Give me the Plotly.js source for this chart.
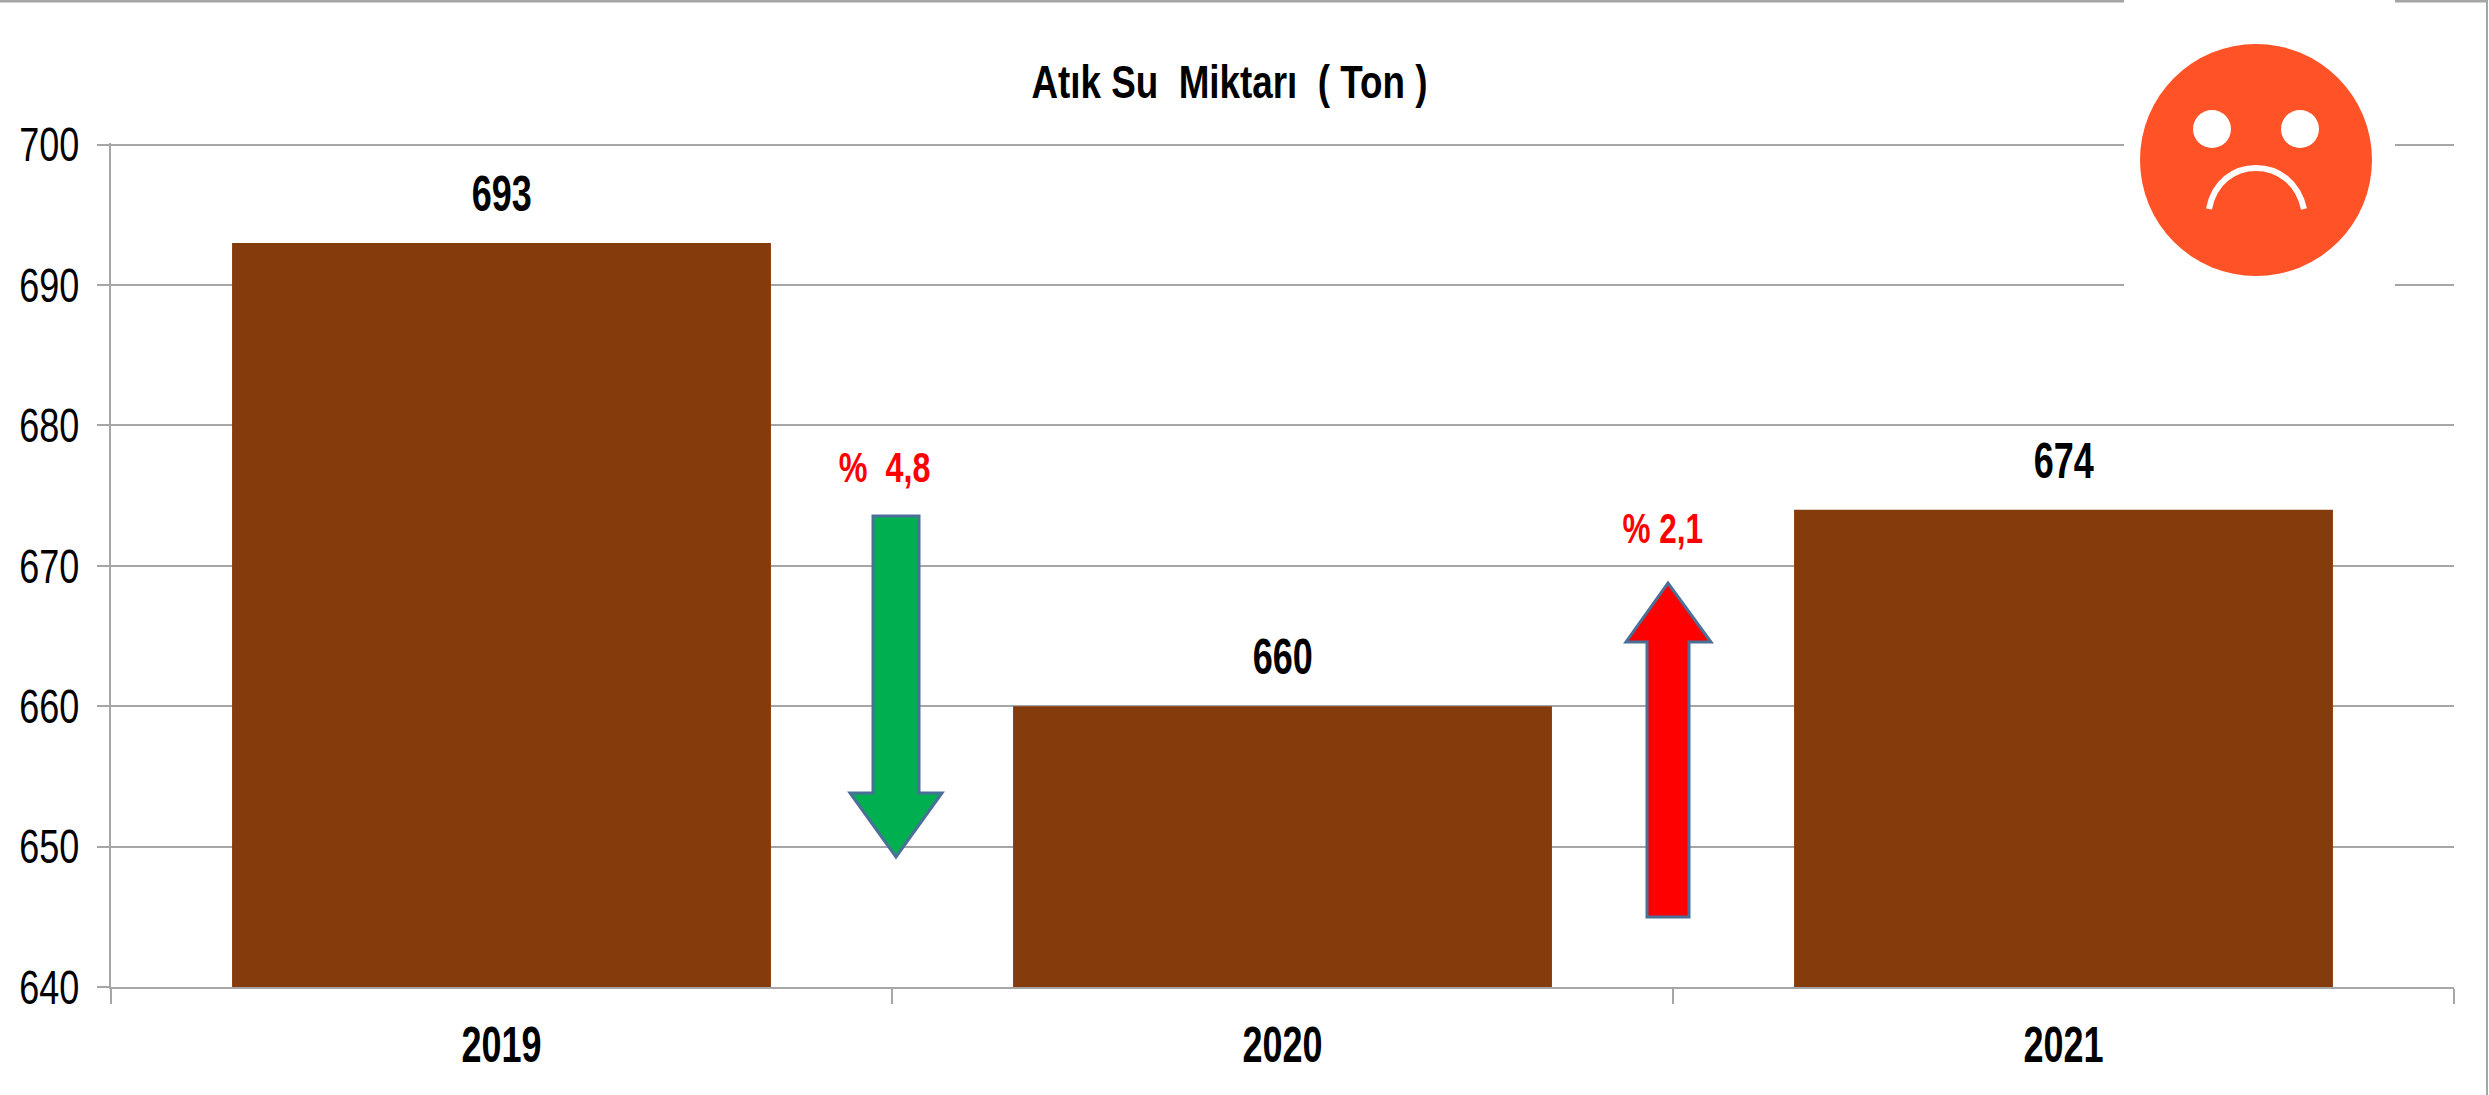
<!DOCTYPE html>
<html>
<head>
<meta charset="utf-8">
<script src="https://cdn.plot.ly/plotly-3.0.1.min.js"></script>
<style>html,body{margin:0;padding:0;background:#fff;overflow:hidden}</style>
</head>
<body>
<div id="chart" style="width:2489px;height:1095px"></div>
<script>
const categories = ["2019", "2020", "2021"];
const wasteWater = [693, 660, 674];
const yTicks = [640, 650, 660, 670, 680, 690, 700];
const chartTitle = "Atık Su  Miktarı  ( Ton )";
const changeLabels = ["%  4,8", "% 2,1"];

const W = 2489, H = 1095;
const M = {l: 111, r: 35, t: 143, b: 108};
const FONT = '"Liberation Sans", Arial, sans-serif';
const px = x => (x - M.l) / (W - M.l - M.r);
const py = y => 1 - (y - M.t) / (H - M.t - M.b);
const P = (x, y) => px(x) + ' ' + py(y);
const pathOf = pts => 'M ' + pts.map(p => P(p[0], p[1])).join(' L ') + ' Z';
const paper = {xref: 'paper', yref: 'paper'};

const shapes = [
  {...paper, type: 'line', x0: px(0), x1: px(2487), y0: py(1), y1: py(1), line: {color: '#a6a6a6', width: 3}},
  {...paper, type: 'line', x0: px(2487), x1: px(2487), y0: py(0), y1: py(H), line: {color: '#a6a6a6', width: 2}},
  {...paper, type: 'rect', x0: px(2124), x1: px(2395), y0: py(0), y1: py(292), fillcolor: '#ffffff', line: {width: 0}},
  {...paper, type: 'circle', x0: px(2140), x1: px(2372), y0: py(44), y1: py(276), fillcolor: '#ff5226', line: {width: 0}},
  {...paper, type: 'circle', x0: px(2193), x1: px(2231), y0: py(110), y1: py(148), fillcolor: '#ffffff', line: {width: 0}},
  {...paper, type: 'circle', x0: px(2281), x1: px(2319), y0: py(110), y1: py(148), fillcolor: '#ffffff', line: {width: 0}},
  {...paper, type: 'path', path: 'M ' + P(2209, 209) + ' C ' + P(2214, 182) + ' ' + P(2234, 168) + ' ' + P(2256, 168) + ' C ' + P(2278, 168) + ' ' + P(2298, 182) + ' ' + P(2304, 209),
    line: {color: '#ffffff', width: 6}},
  {...paper, type: 'path', fillcolor: '#00b050', line: {color: '#4a7098', width: 3},
    path: pathOf([[873, 516], [919, 516], [919, 793], [942, 793], [896, 857], [850, 793], [873, 793]])},
  {...paper, type: 'path', fillcolor: '#ff0000', line: {color: '#4a7098', width: 3},
    path: pathOf([[1647, 917], [1689, 917], [1689, 642], [1711, 642], [1668, 583], [1626, 642], [1647, 642]])}
];

const annotations = [
  {...paper, x: px(1229), y: py(82), text: chartTitle, showarrow: false, xanchor: 'center', yanchor: 'middle',
    font: {family: FONT, size: 46, color: '#000', weight: 700}},
  {...paper, x: px(884), y: py(467), text: changeLabels[0], showarrow: false, xanchor: 'center', yanchor: 'middle',
    font: {family: FONT, size: 42, color: '#ff0000', weight: 700}},
  {...paper, x: px(1662), y: py(528), text: changeLabels[1], showarrow: false, xanchor: 'center', yanchor: 'middle',
    font: {family: FONT, size: 42, color: '#ff0000', weight: 700}}
].concat(categories.map((c, i) => ({
  x: i, y: wasteWater[i], xref: 'x', yref: 'y', text: String(wasteWater[i]), showarrow: false,
  xanchor: 'center', yanchor: 'bottom', yshift: 19,
  font: {family: FONT, size: 50, color: '#000', weight: 700}
})));

// The reference lettering is a condensed face; squeeze the real text to its width.
function condense(gd) {
  const squeeze = (sel, f) => gd.querySelectorAll(sel).forEach(t => {
    const w = t.getComputedTextLength();
    t.setAttribute('textLength', w * f);
    t.setAttribute('lengthAdjust', 'spacingAndGlyphs');
  });
  squeeze('.ytick text', 0.75);
  squeeze('.xtick text', 0.72);
  const notes = gd.querySelectorAll('.annotation-text');
  const factors = [0.80, 0.77, 0.75, 0.72, 0.72, 0.72];
  notes.forEach((t, i) => {
    t.setAttribute('textLength', t.getComputedTextLength() * factors[i]);
    t.setAttribute('lengthAdjust', 'spacingAndGlyphs');
  });
}

Plotly.newPlot('chart', [{
  type: 'bar', x: categories, y: wasteWater,
  marker: {color: '#843c0c', line: {width: 0}},
  hoverinfo: 'x+y'
}], {
  width: W, height: H,
  margin: M,
  paper_bgcolor: '#ffffff', plot_bgcolor: '#ffffff',
  showlegend: false, bargap: 0.31,
  xaxis: {
    type: 'category', range: [-0.5, 2.5], tickson: 'boundaries',
    ticks: 'outside', ticklen: 15, tickwidth: 1.5, tickcolor: '#a6a6a6',
    showline: true, linecolor: '#a6a6a6', linewidth: 2,
    showgrid: false, ticklabelstandoff: 13,
    tickfont: {family: FONT, size: 50, color: '#000', weight: 700}
  },
  yaxis: {
    range: [640, 700.12], tickmode: 'array', tickvals: yTicks, ticktext: yTicks.map(String),
    ticks: 'outside', ticklen: 12, tickwidth: 2, tickcolor: '#a6a6a6',
    showline: true, linecolor: '#a6a6a6', linewidth: 2,
    showgrid: true, gridcolor: '#a6a6a6', gridwidth: 2, zeroline: false,
    ticklabelstandoff: 8,
    tickfont: {family: FONT, size: 48, color: '#000'}
  },
  shapes, annotations
}, {displayModeBar: false}).then(condense);
</script>
</body>
</html>
